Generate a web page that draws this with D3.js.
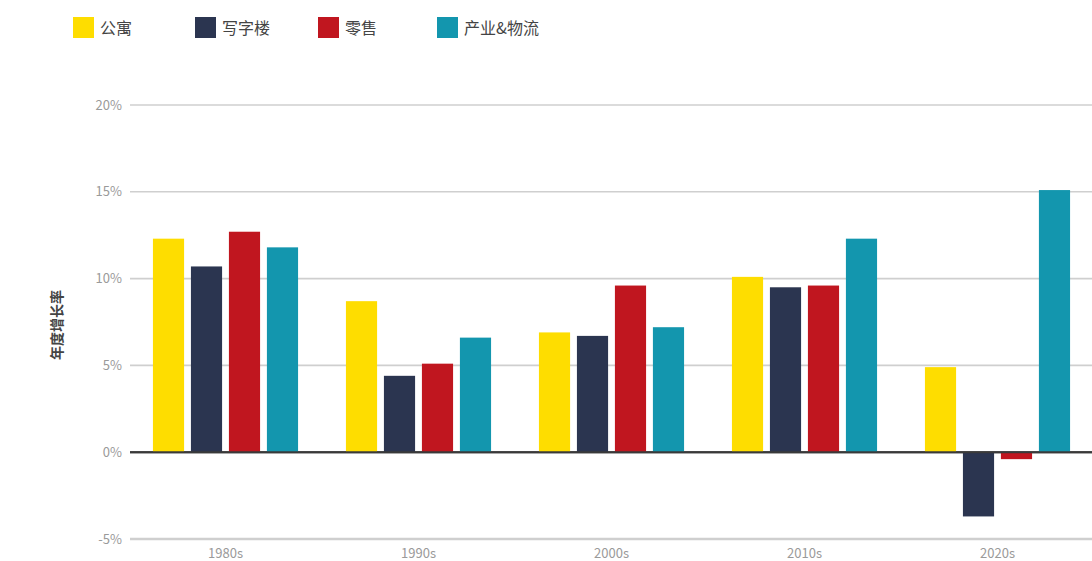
<!DOCTYPE html>
<html><head><meta charset="utf-8">
<script src="https://cdn.jsdelivr.net/npm/d3@7"></script>
<style>body{margin:0;background:#fff;overflow:hidden}svg{display:block}</style>
</head><body>
<svg id="c" width="1092" height="561"></svg>
<script>
const decades = ["1980s","1990s","2000s","2010s","2020s"];
const seriesNames = ["公寓","写字楼","零售","产业&物流"];
const seriesColors = ["#FEDD00","#2B3550","#C0161F","#1396AE"];
const apartment = [12.3, 8.7, 6.9, 10.1, 4.9];
const office = [10.7, 4.4, 6.7, 9.5, -3.7];
const retail = [12.7, 5.1, 9.6, 9.6, -0.4];
const industrial = [11.8, 6.6, 7.2, 12.3, 15.1];
const yTicks = [-5, 0, 5, 10, 15, 20];
const values = [apartment, office, retail, industrial];

const svg = d3.select("#c");
const font = "'Noto Sans CJK SC','Noto Sans',sans-serif";
const y = d3.scaleLinear().domain([-5, 20]).range([539, 105]);
const x0 = d3.scaleBand().domain(decades).range([129, 1094]).padding(0);
const x1 = d3.scaleBand().domain(seriesNames).range([0, x0.bandwidth()]).paddingInner(0.18).paddingOuter(0.63);

// gridlines
svg.append("g").selectAll("line").data(yTicks).join("line")
  .attr("x1", 130).attr("x2", 1092)
  .attr("y1", d => y(d)).attr("y2", d => y(d))
  .attr("stroke", d => d === 0 ? "#3a3a3a" : "#cfcfcf")
  .attr("stroke-width", d => d === 0 ? 2 : (d === -5 ? 2.5 : 1.6));

// y tick labels
svg.append("g").selectAll("text").data(yTicks).join("text")
  .attr("x", 122).attr("y", d => y(d)).attr("dy", "0.35em")
  .attr("text-anchor", "end").attr("font-family", font).attr("font-size", 13)
  .attr("fill", "#9a9a9a").text(d => d + "%");

// bars
const g = svg.append("g");
decades.forEach((dec, i) => {
  seriesNames.forEach((s, j) => {
    const v = values[j][i];
    g.append("rect")
      .attr("x", x0(dec) + x1(s))
      .attr("width", x1.bandwidth())
      .attr("y", y(Math.max(0, v)))
      .attr("height", Math.abs(y(v) - y(0)))
      .attr("fill", seriesColors[j]);
  });
});

// redraw zero line on top
svg.append("line").attr("x1", 130).attr("x2", 1092).attr("y1", y(0)).attr("y2", y(0))
  .attr("stroke", "#3a3a3a").attr("stroke-width", 2);

// x labels
svg.append("g").selectAll("text").data(decades).join("text")
  .attr("x", d => x0(d) + x0.bandwidth() / 2).attr("y", 558)
  .attr("text-anchor", "middle").attr("font-family", font).attr("font-size", 13)
  .attr("fill", "#9a9a9a").text(d => d);

// y axis title
svg.append("text")
  .attr("transform", `translate(62,${(y(-5) + y(20)) / 2 + 3}) rotate(-90)`)
  .attr("text-anchor", "middle").attr("font-family", font).attr("font-size", 14)
  .attr("font-weight", "bold").attr("fill", "#444").text("年度增长率");

// legend
const legX = [73, 195, 318, 437];
const leg = svg.append("g");
seriesNames.forEach((s, j) => {
  leg.append("rect").attr("x", legX[j]).attr("y", 17).attr("width", 21).attr("height", 21)
    .attr("fill", seriesColors[j]);
  leg.append("text").attr("x", legX[j] + 27).attr("y", 28).attr("dy", "0.35em")
    .attr("font-family", font).attr("font-size", 16).attr("fill", "#444").text(s);
});
</script>
</body></html>
